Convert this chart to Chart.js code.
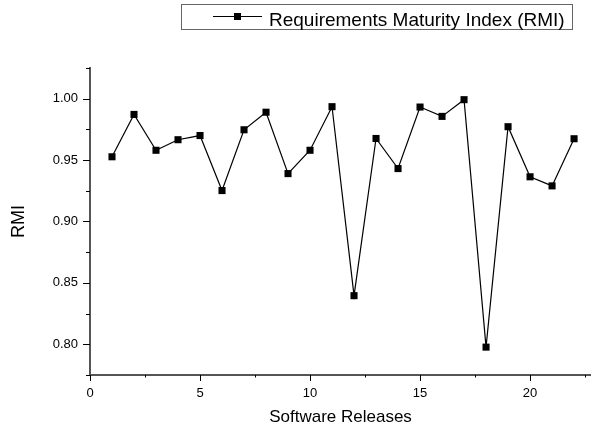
<!DOCTYPE html>
<html>
<head>
<meta charset="utf-8">
<script src="https://cdn.jsdelivr.net/npm/chart.js@4/dist/chart.umd.min.js"></script>
<style>
html,body{margin:0;padding:0;background:#fff;}
#wrap{width:591px;height:428px;position:relative;}
</style>
</head>
<body>
<div id="wrap"><canvas id="c" width="591" height="428"></canvas></div>
<script>
const releases = [1,2,3,4,5,6,7,8,9,10,11,12,13,14,15,16,17,18,19,20,21,22];
const rmiValues = [0.9527,0.9872,0.9580,0.9666,0.9700,0.9252,0.9747,0.9890,0.9390,0.9580,0.9935,
                   0.8396,0.9676,0.9431,0.9932,0.9856,0.9992,0.7977,0.9772,0.9364,0.9290,0.9674];
const seriesLabel = 'Requirements Maturity Index (RMI)';
const xTitle = 'Software Releases';
const yTitle = 'RMI';

const FONT = "'Liberation Sans', Arial, sans-serif";
const AXIS_COLOR = '#555';

const ticksPlugin = {
  id: 'originTicks',
  afterDraw(chart) {
    const ctx = chart.ctx;
    const xs = chart.scales.x, ys = chart.scales.y;
    const area = chart.chartArea;
    ctx.save();
    ctx.strokeStyle = '#000';
    ctx.lineWidth = 1;
    ctx.beginPath();
    xs.ticks.forEach(t => {
      const px = Math.round(xs.getPixelForValue(t.value)) + 0.5;
      const major = Math.abs(t.value / 5 - Math.round(t.value / 5)) < 1e-6;
      const len = major ? 6 : 2.5;
      ctx.moveTo(px, area.bottom);
      ctx.lineTo(px, area.bottom + len);
    });
    ys.ticks.forEach(t => {
      const py = Math.round(ys.getPixelForValue(t.value)) + 0.5;
      const major = Math.abs(t.value / 0.05 - Math.round(t.value / 0.05)) < 1e-6;
      const len = major ? 7 : 4;
      ctx.moveTo(area.left, py);
      ctx.lineTo(area.left - len, py);
    });
    ctx.stroke();

    // legend box
    const ds = chart.data.datasets[0];
    ctx.strokeStyle = '#666';
    ctx.lineWidth = 1;
    ctx.strokeRect(181.5, 4.5, 391, 25);
    const ly = 16.5;
    ctx.strokeStyle = '#000';
    ctx.lineWidth = 1.2;
    ctx.beginPath();
    ctx.moveTo(213, ly);
    ctx.lineTo(262, ly);
    ctx.stroke();
    ctx.fillStyle = '#000';
    ctx.fillRect(234, ly - 3.5, 7, 7);
    ctx.font = '19px ' + FONT;
    ctx.textBaseline = 'alphabetic';
    ctx.textAlign = 'left';
    ctx.fillText(ds.label, 269, 26);
    ctx.restore();
  }
};

new Chart(document.getElementById('c'), {
  type: 'line',
  data: {
    datasets: [{
      label: seriesLabel,
      data: releases.map((r, i) => ({x: r, y: rmiValues[i]})),
      borderColor: '#000',
      backgroundColor: '#000',
      borderWidth: 1.2,
      pointStyle: 'rect',
      pointRadius: 5,
      pointHoverRadius: 5,
      pointBorderWidth: 0,
      tension: 0,
      fill: false
    }]
  },
  plugins: [ticksPlugin],
  options: {
    responsive: false,
    animation: false,
    devicePixelRatio: 1,
    layout: {autoPadding: false, padding: {top: 68, right: 0, left: 0, bottom: 0}},
    plugins: {legend: {display: false}, tooltip: {enabled: false}},
    scales: {
      x: {
        type: 'linear',
        min: 0,
        max: 22.77,
        afterFit(s) { s.height = 53; s.paddingRight = 0; s.paddingLeft = 0; },
        afterBuildTicks(s) {
          const t = [];
          for (let v = 0; v <= 22.77; v += 2.5) t.push({value: v});
          s.ticks = t;
        },
        grid: {display: false, drawTicks: true, tickLength: 6},
        border: {display: true, color: AXIS_COLOR, width: 2},
        ticks: {
          padding: 5,
          color: '#000',
          font: {family: FONT, size: 13},
          maxRotation: 0,
          autoSkip: false,
          callback: v => (Math.abs(v / 5 - Math.round(v / 5)) < 1e-6 ? String(Math.round(v)) : '')
        },
        title: {display: true, text: xTitle, color: '#000', font: {family: FONT, size: 17}, padding: {top: 0, bottom: 0}}
      },
      y: {
        min: 0.775,
        max: 1.025,
        afterFit(s) { s.width = 90; s.paddingTop = 0; s.paddingBottom = 0; },
        afterBuildTicks(s) {
          const t = [];
          for (let k = 0; k <= 10; k++) t.push({value: Math.round((0.775 + k * 0.025) * 1000) / 1000});
          s.ticks = t;
        },
        grid: {display: false, drawTicks: true, tickLength: 7},
        border: {display: true, color: AXIS_COLOR, width: 2},
        ticks: {
          padding: 5,
          color: '#000',
          font: {family: FONT, size: 13},
          autoSkip: false,
          callback: v => (Math.abs(v / 0.05 - Math.round(v / 0.05)) < 1e-6 ? v.toFixed(2) : '')
        },
        title: {display: true, text: yTitle, color: '#000', font: {family: FONT, size: 18}, padding: {top: 8, bottom: 0}}
      }
    }
  }
});
</script>
</body>
</html>
